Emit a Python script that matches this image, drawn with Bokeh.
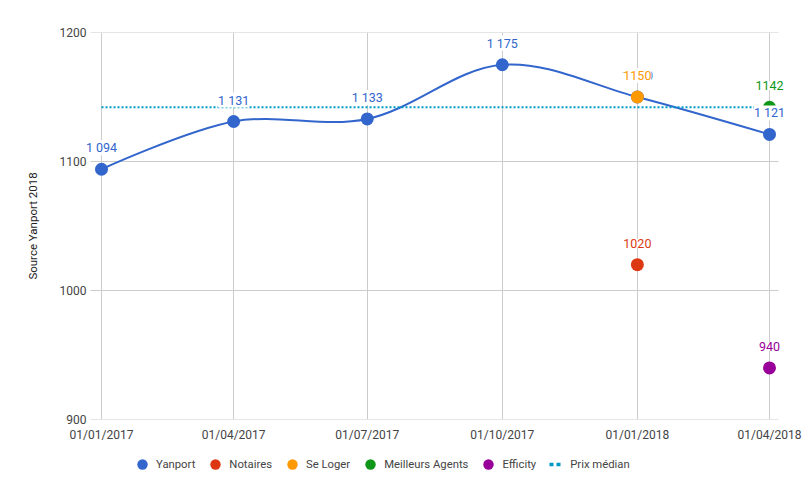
import numpy as np
import pandas as pd
from bokeh.plotting import figure
from bokeh.layouts import column
from bokeh.models import (ColumnDataSource, Legend, LegendItem, FixedTicker,
                          DatetimeTickFormatter, Range1d, LabelSet)
from bokeh.embed import file_html
from bokeh.resources import INLINE
from bokeh.core.properties import value

# ---------------- data ----------------
dates = ["2017-01-01", "2017-04-01", "2017-07-01", "2017-10-01", "2018-01-01", "2018-04-01"]
yanport = [1094, 1131, 1133, 1175, 1150, 1121]
notaires_dates = ["2018-01-01"]
notaires = [1020]
seloger_dates = ["2018-01-01"]
seloger = [1150]
meilleurs_dates = ["2018-04-01"]
meilleurs = [1142]
efficity_dates = ["2018-04-01"]
efficity = [940]
median_dates = ["2017-01-01", "2018-04-01"]
median = [1142, 1142]
y_ticks = [900, 1000, 1100, 1200]
x_ticks = dates

colors = {"Yanport": "#3366cc", "Notaires": "#dc3912", "Se Loger": "#ff9900",
          "Meilleurs Agents": "#109618", "Efficity": "#990099", "Prix médian": "#0099c6"}


def ms(ds):
    return (pd.to_datetime(ds).astype("int64") // 10**6).astype(float).to_numpy()


def fmt_space(v):
    return f"{v:,}".replace(",", " ")


x_y = ms(dates)

# ---------------- main figure ----------------
BORDER_L, BORDER_R = 76, 4
FRAME_W = 804 - BORDER_L - BORDER_R
FRAME_H = 387.0
px_per_ms = 668.0 / (x_y[-1] - x_y[0])
x0 = x_y[0] - 25.0 / px_per_ms          # frame left (room for labels)
x1 = x0 + FRAME_W / px_per_ms
x_grid_start = x_y[0] - 11.0 / px_per_ms
x_grid_end = x_y[-1] + 9.0 / px_per_ms

p = figure(width=804, height=445, output_backend="svg", toolbar_location=None,
           x_axis_type="datetime", x_range=Range1d(x0, x1), y_range=Range1d(900, 1200),
           min_border_left=BORDER_L, min_border_right=BORDER_R, min_border_top=32,
           min_border_bottom=26)
p.outline_line_color = None
p.background_fill_color = "white"
p.border_fill_color = "white"

sx = px_per_ms
sy = FRAME_H / 300.0

# horizontal grid lines (limited to the chart area)
hg = ColumnDataSource(dict(x0=[x_grid_start] * len(y_ticks), x1=[x_grid_end] * len(y_ticks), y=y_ticks))
p.segment(x0="x0", y0="y", x1="x1", y1="y", source=hg, line_color="#cccccc", line_width=1)

# ---- smooth curve (distance-weighted cubic spline) through the Yanport points ----
P = np.column_stack([x_y * sx, np.array(yanport, float) * sy])
n = len(P)
t = 0.34
cp_before = P.copy()
cp_after = P.copy()
for i in range(1, n - 1):
    d01 = np.hypot(*(P[i] - P[i - 1]))
    d12 = np.hypot(*(P[i + 1] - P[i]))
    fa = t * d01 / (d01 + d12)
    fb = t * d12 / (d01 + d12)
    cp_before[i] = P[i] - fa * (P[i + 1] - P[i - 1])
    cp_after[i] = P[i] + fb * (P[i + 1] - P[i - 1])

bz = ColumnDataSource(dict(
    x0=P[:-1, 0] / sx, y0=P[:-1, 1] / sy,
    x1=P[1:, 0] / sx, y1=P[1:, 1] / sy,
    cx0=cp_after[:-1, 0] / sx, cy0=cp_after[:-1, 1] / sy,
    cx1=cp_before[1:, 0] / sx, cy1=cp_before[1:, 1] / sy,
))
p.bezier(x0="x0", y0="y0", x1="x1", y1="y1", cx0="cx0", cy0="cy0", cx1="cx1", cy1="cy1",
         source=bz, line_color=colors["Yanport"], line_width=2)

# ---- points ----
series = [
    ("Yanport", x_y, yanport, [fmt_space(v) for v in yanport]),
    ("Notaires", ms(notaires_dates), notaires, [str(v) for v in notaires]),
    ("Se Loger", ms(seloger_dates), seloger, [str(v) for v in seloger]),
    ("Meilleurs Agents", ms(meilleurs_dates), meilleurs, [str(v) for v in meilleurs]),
    ("Efficity", ms(efficity_dates), efficity, [str(v) for v in efficity]),
]
sources = {}
for name, xs, ys, labels in series:
    src = ColumnDataSource(dict(x=xs, y=ys, label=labels))
    sources[name] = src
    p.scatter(x="x", y="y", source=src, size=13, marker="circle",
              fill_color=colors[name], line_color=colors[name], line_width=0)

med_src = ColumnDataSource(dict(x=ms(median_dates), y=median))
p.line(x="x", y="y", source=med_src, line_color=colors["Prix médian"],
       line_width=2, line_dash="2 2")

# ---- data labels ----
for name, xs, ys, labels in series:
    ls = LabelSet(x="x", y="y", text="label", source=sources[name], text_color=colors[name],
                  text_font=value("Roboto"), text_font_size=value("12.5px"), text_align="center",
                  text_baseline="alphabetic", y_offset=17,
                  background_fill_color="white")
    p.add_layout(ls)

# ---- axes ----
p.xaxis.ticker = FixedTicker(ticks=list(ms(x_ticks)))
fmt = "%d/%m/%Y"
p.xaxis.formatter = DatetimeTickFormatter(milliseconds=fmt, seconds=fmt, minsec=fmt, minutes=fmt,
                                          hourmin=fmt, hours=fmt, days=fmt, months=fmt, years=fmt)
p.yaxis.ticker = FixedTicker(ticks=y_ticks)
for ax in (p.xaxis[0], p.yaxis[0]):
    ax.axis_line_color = None
    ax.major_tick_line_color = None
    ax.minor_tick_line_color = None
    ax.major_tick_out = 0
    ax.major_tick_in = 0
    ax.minor_tick_out = 0
    ax.major_label_text_font = "Roboto"
    ax.major_label_text_font_size = "12px"
    ax.major_label_text_color = "#444444"
p.xaxis.major_label_standoff = 8
p.yaxis.major_label_standoff = -(90 - BORDER_L) + 4
p.yaxis.axis_label = "Source Yanport 2018"
p.yaxis.axis_label_text_font = "Roboto"
p.yaxis.axis_label_text_font_style = "normal"
p.yaxis.axis_label_text_font_size = "11.5px"
p.yaxis.axis_label_text_color = "#222222"
p.yaxis.axis_label_standoff = 17

p.xgrid.grid_line_color = "#cccccc"
p.xgrid.ticker = p.xaxis.ticker
p.ygrid.visible = False

# ---------------- legend strip ----------------
names = ["Yanport", "Notaires", "Se Loger", "Meilleurs Agents", "Efficity", "Prix médian"]
leg = figure(width=804, height=52, output_backend="svg", toolbar_location=None,
             x_range=Range1d(0, 1), y_range=Range1d(0, 1),
             x_axis_location=None, y_axis_location=None,
             min_border_left=0, min_border_right=0, min_border_top=0, min_border_bottom=0)
leg.outline_line_color = None
leg.xgrid.visible = False
leg.ygrid.visible = False
leg_renderers = {}
for name, xs, ys, labels in series:
    # same data, outside this strip's ranges: only the legend glyph shows
    leg_renderers[name] = leg.scatter(x="x", y="y", source=sources[name], size=13, marker="circle",
                                      fill_color=colors[name], line_color=colors[name], line_width=0)
leg_renderers["Prix médian"] = leg.line(x="x", y="y", source=med_src, line_color=colors["Prix médian"],
                                        line_width=3.5, line_dash="4 3 4 15", line_dash_offset=20)
legend = Legend(items=[LegendItem(label=nm, renderers=[leg_renderers[nm]]) for nm in names],
                orientation="horizontal", location=(129 - BORDER_L, 20), margin=0, padding=0,
                glyph_width=26, glyph_height=26, label_standoff=1, spacing=7,
                label_text_font="Roboto", label_text_font_size="11.3px",
                label_text_color="#444444", border_line_color=None,
                background_fill_alpha=0)
leg.add_layout(legend, "center")

layout = column(p, leg, spacing=0)
open("out.html", "w").write(file_html(layout, INLINE))
